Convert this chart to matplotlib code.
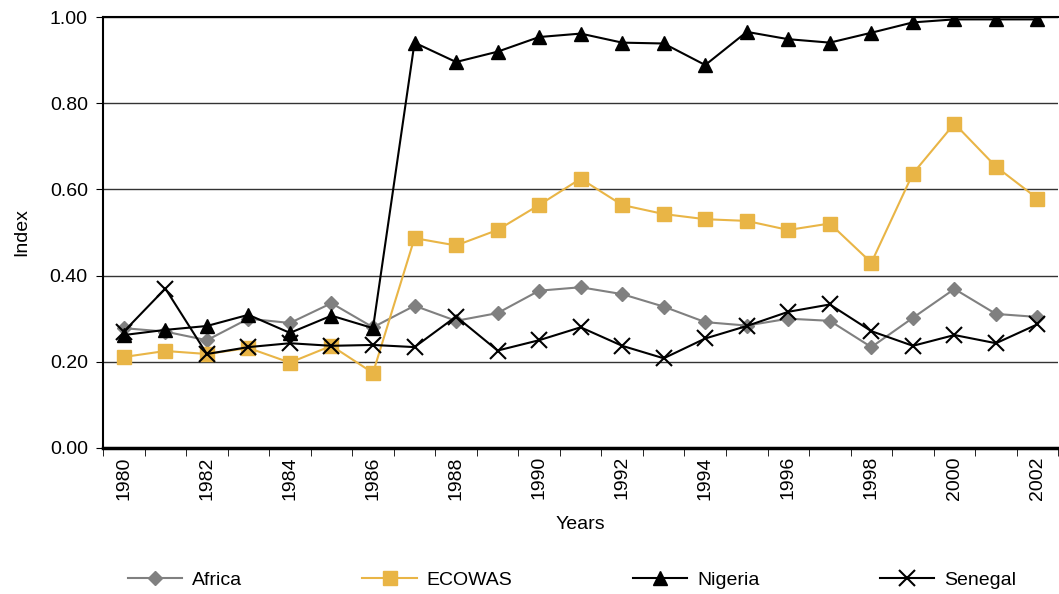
import numpy as np
import matplotlib.pyplot as plt

plt.rcParams['font.family'] = ['Liberation Sans', 'DejaVu Sans']

years = np.arange(1980, 2003)

africa = [0.278, 0.270, 0.250, 0.300, 0.290, 0.336, 0.280, 0.330, 0.295, 0.313,
          0.365, 0.373, 0.357, 0.328, 0.292, 0.284, 0.300, 0.295, 0.234, 0.302,
          0.369, 0.311, 0.304]
ecowas = [0.211, 0.225, 0.218, 0.232, 0.198, 0.237, 0.174, 0.487, 0.470, 0.506,
          0.564, 0.625, 0.564, 0.543, 0.531, 0.527, 0.506, 0.521, 0.430, 0.637,
          0.753, 0.653, 0.579]
nigeria = [0.262, 0.274, 0.283, 0.309, 0.267, 0.307, 0.278, 0.941, 0.896, 0.920,
           0.954, 0.962, 0.941, 0.939, 0.889, 0.966, 0.949, 0.941, 0.964, 0.988,
           0.995, 0.995, 0.995]
senegal = [0.270, 0.370, 0.218, 0.234, 0.243, 0.237, 0.239, 0.234, 0.305, 0.226,
           0.250, 0.280, 0.237, 0.208, 0.254, 0.283, 0.316, 0.333, 0.271, 0.237,
           0.262, 0.243, 0.287]

fig = plt.figure(figsize=(10.59, 5.94), dpi=100)
ax = fig.add_axes([0.0973, 0.246, 0.902, 0.725])

ax.plot(years, africa, color='#808080', marker='D', markersize=7, lw=1.5,
        label='Africa', zorder=3)
ax.plot(years, ecowas, color='#E9B546', marker='s', markersize=10, lw=1.5,
        label='ECOWAS', zorder=3)
ax.plot(years, nigeria, color='black', marker='^', markersize=10, lw=1.5,
        label='Nigeria', zorder=4)
ax.plot(years, senegal, color='black', marker='x', markersize=11, mew=1.5, lw=1.5,
        label='Senegal', zorder=4)

ax.set_xlim(1979.5, 2002.5)
ax.set_ylim(0, 1.0)
ax.set_yticks(np.arange(0, 1.01, 0.2))
ax.set_yticklabels([f'{v:.2f}' for v in np.arange(0, 1.01, 0.2)], fontsize=14)
ax.yaxis.grid(True, color='#333333', lw=1.0)
ax.set_axisbelow(True)

# year labels every other category, tick marks on category boundaries
ax.set_xticks(years[::2])
ax.set_xticklabels([str(y) for y in years[::2]], rotation=90, fontsize=14)
ax.set_xticks(np.arange(1979.5, 2003, 1), minor=True)
ax.tick_params(axis='x', which='major', length=0, pad=6)
ax.tick_params(axis='x', which='minor', length=6, direction='out', color='black')
ax.tick_params(axis='y', length=5, direction='out', pad=6)

ax.spines['right'].set_visible(False)
ax.spines['top'].set_linewidth(1.5)
ax.spines['left'].set_linewidth(1.5)
ax.spines['bottom'].set_linewidth(2.5)

ax.set_xlabel('Years', fontsize=14, labelpad=12)
ax.set_ylabel('Index', fontsize=14, labelpad=14)

fig.legend(loc='center', bbox_to_anchor=(0.54, 0.024), ncol=4, frameon=False,
           fontsize=14, handlelength=2.8, columnspacing=6.2, handletextpad=0.5)

fig.savefig('out.png', dpi=100)
